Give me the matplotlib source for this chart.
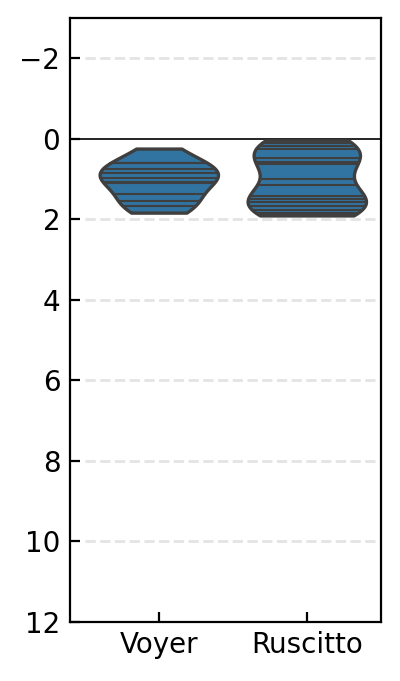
import numpy as np
import pandas as pd
import matplotlib
matplotlib.use("Agg")
import matplotlib.pyplot as plt
import seaborn as sns

categories = ["Voyer", "Ruscitto"]
voyer = [0.25, 0.60, 0.62, 0.76, 0.85, 0.98, 1.08, 1.10, 1.39, 1.55, 1.68, 1.84]
ruscitto = [0.05, 0.12, 0.19, 0.27, 0.48, 0.58, 0.64, 1.00, 1.15, 1.43, 1.49,
            1.58, 1.68, 1.78, 1.85, 1.91]
grid_levels = [-2, 2, 4, 6, 8, 10]

df = pd.DataFrame({
    "source": [categories[0]] * len(voyer) + [categories[1]] * len(ruscitto),
    "value": voyer + ruscitto,
})

fig, ax = plt.subplots(figsize=(2.0, 3.405), dpi=200)
fig.subplots_adjust(left=0.175, right=0.952, top=0.974, bottom=0.087)

ax.hlines(grid_levels, -0.5, 1.5, colors="#e4e4e4", linestyles="--",
          linewidth=1.0, zorder=0.5)
ax.axhline(0, color="black", linewidth=0.6, zorder=0.6)

sns.violinplot(data=df, x="source", y="value", order=categories, inner="stick",
               cut=0, density_norm="width", color="#3274a1", saturation=1,
               linewidth=1.2, linecolor="#3f3f3f",
               inner_kws=dict(linewidth=0.75, color="#3f3f3f"), ax=ax)

ax.set_xlim(-0.6, 1.5)
ax.set_ylim(12, -3)
ax.set_yticks([-2, 0, 2, 4, 6, 8, 10, 12])
ax.tick_params(direction="in", labelsize=10)
ax.set_xlabel("")
ax.set_ylabel("")

fig.savefig("out.png", dpi=200)
